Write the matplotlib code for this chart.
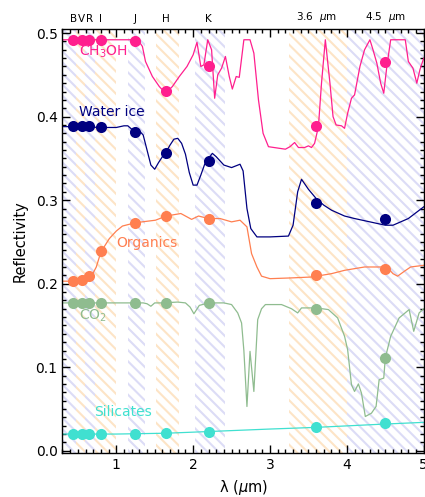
import matplotlib
matplotlib.use("Agg")
import matplotlib.pyplot as plt
from matplotlib.ticker import MultipleLocator
import matplotlib.transforms as mtransforms

plt.rcParams['font.family'] = ['DejaVu Sans']
plt.rcParams['hatch.linewidth'] = 1.5

# ---- band definitions ----
band_names = ["B", "V", "R", "I", "J", "H", "K", "3.6  $\\mu$m", "4.5  $\\mu$m"]
band_centers = [0.44, 0.55, 0.65, 0.80, 1.25, 1.65, 2.20, 3.60, 4.50]
band_lo = [0.30, 0.48, 0.59, 0.72, 1.15, 1.52, 2.02, 3.25, 4.00]
band_hi = [0.48, 0.59, 0.72, 1.00, 1.38, 1.81, 2.42, 4.00, 5.00]
band_kind = ["b", "o", "b", "o", "b", "o", "b", "o", "b"]

# ---- spectra ----
ch3oh_x = [0.3, 1.28, 1.34, 1.38, 1.47, 1.56, 1.64, 1.73, 1.82, 1.92, 2.0, 2.05, 2.1,
           2.14, 2.19, 2.24, 2.28, 2.32, 2.37, 2.42, 2.47, 2.51, 2.56, 2.6, 2.66, 2.74,
           2.79, 2.85, 2.91, 2.98, 3.2, 3.26, 3.32, 3.37, 3.45, 3.5, 3.54, 3.58, 3.63,
           3.67, 3.72, 3.78, 3.82, 3.86, 3.93, 3.97, 4.01, 4.06, 4.1, 4.17, 4.23, 4.3,
           4.34, 4.39, 4.44, 4.48, 4.52, 4.57, 4.76, 4.8, 4.86, 4.91, 4.95, 5.0]
ch3oh_y = [0.492, 0.492, 0.484, 0.466, 0.448, 0.436, 0.428, 0.436, 0.448, 0.46, 0.474,
           0.489, 0.46, 0.462, 0.492, 0.48, 0.422, 0.45, 0.458, 0.472, 0.448, 0.433,
           0.448, 0.447, 0.492, 0.492, 0.476, 0.42, 0.38, 0.364, 0.361, 0.364, 0.369,
           0.363, 0.363, 0.365, 0.363, 0.368, 0.388, 0.44, 0.492, 0.44, 0.40, 0.39,
           0.389, 0.386, 0.404, 0.422, 0.426, 0.46, 0.48, 0.492, 0.48, 0.464, 0.44,
           0.428, 0.46, 0.492, 0.492, 0.466, 0.458, 0.44, 0.456, 0.47]
ch3oh_mk = [0.492, 0.492, 0.492, 0.492, 0.490, 0.431, 0.461, 0.389, 0.465]

water_x = [0.3, 0.5, 0.8, 1.0, 1.1, 1.15, 1.2, 1.25, 1.3, 1.35, 1.4, 1.45, 1.5, 1.55,
           1.6, 1.65, 1.7, 1.75, 1.8, 1.85, 1.9, 1.95, 2.0, 2.05, 2.1, 2.15, 2.2, 2.25,
           2.3, 2.4, 2.5, 2.61, 2.65, 2.7, 2.75, 2.83, 3.0, 3.24, 3.3, 3.36, 3.41, 3.5,
           3.6, 3.7, 3.8, 3.97, 4.1, 4.3, 4.5, 4.6, 4.8, 5.0]
water_y = [0.388, 0.388, 0.387, 0.387, 0.389, 0.389, 0.385, 0.381, 0.383, 0.378, 0.36,
           0.342, 0.337, 0.345, 0.352, 0.358, 0.366, 0.373, 0.374, 0.368, 0.355, 0.333,
           0.318, 0.318, 0.33, 0.343, 0.35, 0.356, 0.352, 0.342, 0.339, 0.343, 0.335,
           0.29, 0.266, 0.256, 0.256, 0.257, 0.27, 0.31, 0.325, 0.313, 0.302, 0.294,
           0.288, 0.281, 0.278, 0.274, 0.270, 0.270, 0.278, 0.292]
water_mk = [0.389, 0.389, 0.389, 0.388, 0.381, 0.357, 0.347, 0.296, 0.277]

org_x = [0.3, 0.5, 0.6, 0.65, 0.7, 0.74, 0.8, 0.91, 1.0, 1.08, 1.25, 1.51, 1.65, 1.84,
         1.92, 1.98, 2.07, 2.2, 2.35, 2.5, 2.61, 2.7, 2.76, 2.83, 2.89, 3.0, 3.3, 3.54,
         3.8, 3.97, 4.23, 4.45, 4.53, 4.6, 4.66, 4.75, 4.83, 5.0]
org_y = [0.203, 0.203, 0.205, 0.207, 0.213, 0.22, 0.238, 0.254, 0.263, 0.269, 0.273,
         0.276, 0.281, 0.284, 0.280, 0.277, 0.281, 0.278, 0.278, 0.274, 0.276, 0.268,
         0.236, 0.220, 0.209, 0.206, 0.207, 0.208, 0.212, 0.216, 0.220, 0.220, 0.219,
         0.212, 0.209, 0.215, 0.220, 0.222]
org_mk = [0.203, 0.204, 0.209, 0.239, 0.273, 0.281, 0.278, 0.210, 0.218]

co2_x = [0.3, 1.35, 1.4, 1.45, 1.5, 1.6, 1.8, 1.9, 1.96, 2.01, 2.08, 2.2, 2.4, 2.5,
         2.58, 2.63, 2.66, 2.70, 2.74, 2.79, 2.84, 2.89, 2.94, 3.15, 3.28, 3.36, 3.41,
         3.6, 3.76, 3.88, 3.97, 4.01, 4.06, 4.10, 4.15, 4.19, 4.24, 4.32, 4.38, 4.42,
         4.48, 4.5, 4.57, 4.68, 4.81, 4.87, 4.94, 5.0]
co2_y = [0.177, 0.177, 0.176, 0.173, 0.177, 0.177, 0.178, 0.177, 0.172, 0.164, 0.174,
         0.177, 0.177, 0.175, 0.165, 0.153, 0.12, 0.053, 0.119, 0.071, 0.157, 0.170,
         0.175, 0.175, 0.170, 0.165, 0.171, 0.171, 0.169, 0.159, 0.137, 0.121, 0.079,
         0.071, 0.080, 0.069, 0.041, 0.045, 0.053, 0.085, 0.087, 0.111, 0.137, 0.159,
         0.169, 0.143, 0.165, 0.170]
co2_mk = [0.177, 0.177, 0.177, 0.177, 0.177, 0.177, 0.177, 0.170, 0.111]

sil_x = [0.3, 1.0, 1.65, 2.2, 3.0, 3.6, 4.5, 5.0]
sil_y = [0.020, 0.020, 0.021, 0.023, 0.026, 0.028, 0.032, 0.034]
sil_mk = [0.020, 0.020, 0.020, 0.020, 0.020, 0.021, 0.023, 0.028, 0.033]

# ---- figure ----
fig = plt.figure(figsize=(4.25, 4.97), dpi=100)
ax = fig.add_axes([0.147, 0.088, 0.850, 0.853])

hatch_col = {"b": "#dcdcf6", "o": "#fde4c6"}
for lo, hi, k in zip(band_lo, band_hi, band_kind):
    ax.axvspan(lo, hi, facecolor="none", edgecolor=hatch_col[k], hatch="\\\\\\",
               linewidth=0, zorder=0)

series = [
    (ch3oh_x, ch3oh_y, ch3oh_mk, "#ff1f8e", "CH$_3$OH", 0.52, 0.477),
    (water_x, water_y, water_mk, "#000080", "Water ice", 0.52, 0.405),
    (org_x, org_y, org_mk, "#ff7f50", "Organics", 1.0, 0.249),
    (co2_x, co2_y, co2_mk, "#8fbc8f", "CO$_2$", 0.52, 0.161),
    (sil_x, sil_y, sil_mk, "#40e0d0", "Silicates", 0.71, 0.046),
]
for xs, ys, mk, col, lab, lx, ly in series:
    ax.plot(xs, ys, color=col, lw=0.9, zorder=2)
    ax.plot(band_centers, mk, "o", color=col, ms=8, zorder=3, markeredgewidth=0)
    ax.text(lx, ly, lab, color=col, fontsize=10, ha="left", va="center", zorder=4)

ax.set_xlim(0.3, 5.0)
ax.set_ylim(-0.003, 0.5045)
ax.xaxis.set_major_locator(MultipleLocator(1))
ax.xaxis.set_minor_locator(MultipleLocator(0.1))
ax.yaxis.set_major_locator(MultipleLocator(0.1))
ax.yaxis.set_minor_locator(MultipleLocator(0.01))
ax.set_yticks([0.0, 0.1, 0.2, 0.3, 0.4, 0.5])
ax.set_yticklabels(["0.0", "0.1", "0.2", "0.3", "0.4", "0.5"])
ax.set_xticks([1, 2, 3, 4, 5])
ax.set_xticklabels(["1", "2", "3", "4", "5"])
ax.tick_params(which="both", direction="in", top=True, right=True, labelsize=10, width=1.0)
ax.tick_params(which="major", length=6)
ax.tick_params(which="minor", length=3)
for s in ax.spines.values():
    s.set_linewidth(1.0)

ax.set_xlabel("λ ($\\mu$m)", fontsize=10.5, labelpad=4)
ax.set_ylabel("Reflectivity", fontsize=10.5, labelpad=6)

trans = mtransforms.blended_transform_factory(ax.transData, ax.transAxes)
for name, xc in zip(band_names, band_centers):
    ax.text(xc, 1.012, name, transform=trans, ha="center", va="bottom", fontsize=7.5)

fig.savefig("out.png", dpi=100)
